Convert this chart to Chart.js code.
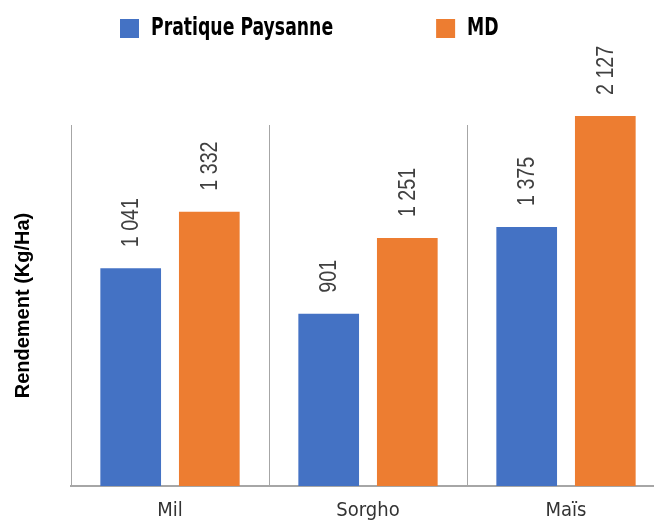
<!DOCTYPE html>
<html>
<head>
<meta charset="utf-8">
<script src="https://cdn.jsdelivr.net/npm/chart.js@4.4.1/dist/chart.umd.min.js"></script>
<style>
    html, body { margin: 0; padding: 0; overflow: hidden; background: #fff; }
    #wrap { position: absolute; left: 0; top: 0; width: 680px; height: 524px; }
</style>
</head>
<body>
<div id="wrap"><canvas id="barChart"></canvas></div>
<script>
// categories and series
const categories = ["Mil", "Sorgho", "Maïs"];
const seriesNames = ["Pratique Paysanne", "MD"];
// bar heights as drawn in the picture
const valuesPaysanne = [1140, 902, 1356];
const valuesMD = [1436, 1298, 1937];
// value labels printed above the bars
const labelsPaysanne = ["1 041", "901", "1 375"];
const labelsMD = ["1 332", "1 251", "2 127"];

const CONDENSED = '"DejaVu Sans Condensed", "DejaVu Sans", sans-serif';
const ARIAL = '"Liberation Sans", Arial, sans-serif';
const GRID = "#a6a6a6";

// custom legend row at the top (text squeezed to look condensed)
const topLegend = {
    id: "topLegend",
    afterDraw(chart) {
        const ctx = chart.ctx;
        const squeeze = 0.8;
        ctx.save();
        ctx.font = "bold 24px " + CONDENSED;
        ctx.textBaseline = "alphabetic";
        ctx.textAlign = "left";
        let x = 120;
        chart.data.datasets.forEach((ds) => {
            ctx.fillStyle = ds.backgroundColor;
            ctx.fillRect(x, 19, 19, 19);
            ctx.fillStyle = "#000";
            ctx.save();
            ctx.translate(x + 31, 35);
            ctx.scale(squeeze, 1);
            ctx.fillText(ds.label, 0, 0);
            ctx.restore();
            x += 31 + ctx.measureText(ds.label).width * squeeze + 103;
        });
        ctx.restore();
    },
};

// rotated value labels above each bar
const barLabels = {
    id: "barLabels",
    afterDatasetsDraw(chart) {
        const ctx = chart.ctx;
        ctx.save();
        ctx.font = "24px " + ARIAL;
        ctx.fillStyle = "#404040";
        ctx.textAlign = "left";
        ctx.textBaseline = "middle";
        chart.data.datasets.forEach((ds, i) => {
            const meta = chart.getDatasetMeta(i);
            meta.data.forEach((bar, j) => {
                ctx.save();
                ctx.translate(bar.x + 1, bar.y - 21);
                ctx.rotate(-Math.PI / 2);
                ctx.scale(0.82, 1);
                ctx.fillText(ds.valueLabels[j], 0, 0);
                ctx.restore();
            });
        });
        ctx.restore();
    },
};

new Chart(document.getElementById("barChart"), {
    type: "bar",
    data: {
        labels: categories,
        datasets: [
            {
                label: seriesNames[0],
                data: valuesPaysanne,
                valueLabels: labelsPaysanne,
                backgroundColor: "#4472C4",
                clip: false,
            },
            {
                label: seriesNames[1],
                data: valuesMD,
                valueLabels: labelsMD,
                backgroundColor: "#ED7D31",
                clip: false,
            },
        ],
    },
    options: {
        responsive: true,
        maintainAspectRatio: false,
        animation: false,
        categoryPercentage: 0.794,
        barPercentage: 0.772,
        layout: { padding: { top: 125, right: 15, bottom: -12, left: 0 } },
        plugins: {
            legend: { display: false },
            tooltip: { enabled: false },
        },
        scales: {
            x: {
                grid: { display: true, color: GRID, lineWidth: 1, drawTicks: false },
                border: { display: true, color: GRID, width: 2 },
                ticks: {
                    padding: 14,
                    color: "#333333",
                    font: { family: CONDENSED, size: 20, lineHeight: 1.1 },
                },
            },
            y: {
                min: 0,
                max: 1890,
                grid: { display: false, drawTicks: false },
                border: { display: false },
                ticks: { display: false },
                title: {
                    display: true,
                    text: "Rendement (Kg/Ha)",
                    color: "#000",
                    font: { family: ARIAL, size: 20, weight: "bold" },
                    padding: { top: 11, bottom: 36 },
                },
            },
        },
    },
    plugins: [topLegend, barLabels],
});
</script>
</body>
</html>
